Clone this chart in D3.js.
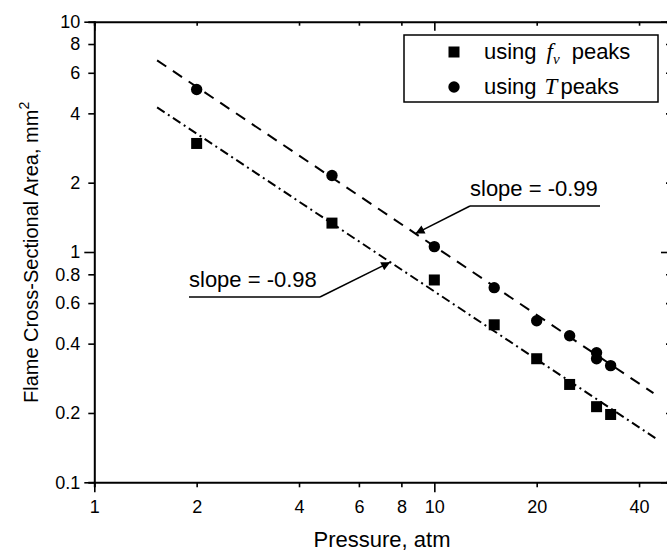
<!DOCTYPE html>
<html>
<head>
<meta charset="utf-8">
<script src="https://cdn.jsdelivr.net/npm/d3@7"></script>
<style>
  html, body { margin: 0; padding: 0; background: #fff; }
  svg { display: block; font-family: "Liberation Sans", Arial, sans-serif; }
</style>
</head>
<body>
<svg id="chart" width="667" height="551"></svg>
<script>
// Flame cross-sectional area vs pressure (log-log), two peak definitions
const pressureFv = [2, 5, 10, 15, 20, 25, 30, 33];
const areaFv     = [2.96, 1.335, 0.756, 0.483, 0.344, 0.266, 0.213, 0.197];
const pressureT  = [2, 5, 10, 15, 20, 25, 30, 30, 33];
const areaT      = [5.08, 2.15, 1.055, 0.70, 0.503, 0.433, 0.365, 0.344, 0.321];

// Power-law fits: area = coef * p^slope
const fitT  = { coef: 10.35, slope: -0.99, from: 1.53, to: 44.1, label: "slope = -0.99", at: 8.8 };
const fitFv = { coef: 6.44,  slope: -0.98, from: 1.53, to: 45.0, label: "slope = -0.98", at: 7.42 };

const xTickValues = [1, 2, 4, 6, 8, 10, 20, 40];
const xMajor = [1, 10];
const yTickValues = [0.1, 0.2, 0.4, 0.6, 0.8, 1, 2, 4, 6, 8, 10];
const yMajor = [0.1, 1, 10];

const svg = d3.select("#chart");
const x = d3.scaleLog().domain([1, 50]).range([94.3, 672]);
const y = d3.scaleLog().domain([0.1, 10]).range([482.3, 21.7]);

const fmt = d => String(d);
const isMajor = (arr, d) => arr.some(m => Math.abs(m - d) < 1e-9);

// Bottom axis (ticks outward)
const gx = svg.append("g").attr("transform", `translate(0,${y(0.1)})`)
  .call(d3.axisBottom(x).tickValues(xTickValues).tickFormat(fmt).tickSizeOuter(0).tickSize(5).tickPadding(13));
gx.selectAll(".tick line").attr("y2", d => isMajor(xMajor, d) ? 10 : 5);
// Left axis (ticks outward)
const gy = svg.append("g").attr("transform", `translate(${x(1)},0)`)
  .call(d3.axisLeft(y).tickValues(yTickValues).tickFormat(fmt).tickSizeOuter(0).tickSize(6).tickPadding(8));
gy.selectAll(".tick line").attr("x2", d => isMajor(yMajor, d) ? -10 : -6);
// Top axis (ticks inward)
const gt = svg.append("g").attr("transform", `translate(0,${y(10)})`)
  .call(d3.axisBottom(x).tickValues(xTickValues).tickFormat("").tickSizeOuter(0).tickSize(4));
gt.selectAll(".tick line").attr("y2", d => isMajor(xMajor, d) ? 9 : 4);
// Right axis (ticks inward)
const gr = svg.append("g").attr("transform", `translate(${x(50)},0)`)
  .call(d3.axisRight(y).tickValues(yTickValues).tickFormat("").tickSizeOuter(0).tickSize(-6));
gr.selectAll(".tick line").attr("x2", d => isMajor(yMajor, d) ? -11 : -6);

svg.selectAll(".domain").attr("stroke", "#000").attr("stroke-width", 2);
svg.selectAll(".tick line").attr("stroke", "#000").attr("stroke-width", 1.6);
svg.selectAll(".tick text").attr("fill", "#000")
  .style("font-family", "'Liberation Sans', Arial, sans-serif").style("font-size", "18px");

// Axis titles
svg.append("text").attr("x", 382).attr("y", 547).attr("text-anchor", "middle")
  .style("font-size", "22px").text("Pressure, atm");
const yt = svg.append("text").attr("transform", "translate(38,403) rotate(-90)")
  .attr("text-anchor", "start").style("font-size", "20px");
yt.append("tspan").text("Flame Cross-Sectional Area, mm");
yt.append("tspan").attr("dy", -9).style("font-size", "14px").text("2");

// Fit lines
const fitLine = d3.line().x(d => x(d[0])).y(d => y(d[1]));
function fitPts(f) { return [f.from, f.to].map(p => [p, f.coef * Math.pow(p, f.slope)]); }
svg.append("path").attr("d", fitLine(fitPts(fitT))).attr("fill", "none")
  .attr("stroke", "#000").attr("stroke-width", 2).attr("stroke-dasharray", "11,8");
svg.append("path").attr("d", fitLine(fitPts(fitFv))).attr("fill", "none")
  .attr("stroke", "#000").attr("stroke-width", 2).attr("stroke-dasharray", "9,4,2,4");

// Data markers
const sq = 11;
svg.append("g").selectAll("rect").data(pressureFv.map((p, i) => [p, areaFv[i]])).join("rect")
  .attr("x", d => x(d[0]) - sq / 2).attr("y", d => y(d[1]) - sq / 2)
  .attr("width", sq).attr("height", sq).attr("fill", "#000");
svg.append("g").selectAll("circle").data(pressureT.map((p, i) => [p, areaT[i]])).join("circle")
  .attr("cx", d => x(d[0])).attr("cy", d => y(d[1])).attr("r", 5.7).attr("fill", "#000");

// Slope annotations with arrows
svg.append("defs").append("marker").attr("id", "arrow")
  .attr("viewBox", "0 0 10 10").attr("refX", 10).attr("refY", 5)
  .attr("markerWidth", 15).attr("markerHeight", 9).attr("markerUnits", "userSpaceOnUse")
  .attr("orient", "auto")
  .append("path").attr("d", "M0,0 L10,5 L0,10 z").attr("fill", "#000");

function annotate(f, lx, ly, len, elbowX) {
  const tip = [x(f.at), y(f.coef * Math.pow(f.at, f.slope))];
  svg.append("text").attr("x", lx).attr("y", ly - 10).style("font-size", "22px").text(f.label);
  svg.append("line").attr("x1", lx).attr("x2", lx + len).attr("y1", ly).attr("y2", ly)
    .attr("stroke", "#000").attr("stroke-width", 1.5);
  svg.append("line").attr("x1", elbowX).attr("y1", ly).attr("x2", tip[0]).attr("y2", tip[1])
    .attr("stroke", "#000").attr("stroke-width", 1.5).attr("marker-end", "url(#arrow)");
}
annotate(fitT, 470, 206, 130, 470);
annotate(fitFv, 189, 297, 131, 320);

// Legend
const lg = svg.append("g");
lg.append("rect").attr("x", 404).attr("y", 35).attr("width", 254).attr("height", 67)
  .attr("fill", "#fff").attr("stroke", "#000").attr("stroke-width", 1.5);
lg.append("rect").attr("x", 454 - sq / 2).attr("y", 52 - sq / 2).attr("width", sq).attr("height", sq).attr("fill", "#000");
lg.append("circle").attr("cx", 454).attr("cy", 87).attr("r", 5.7).attr("fill", "#000");
const serif = "'Liberation Serif', 'Times New Roman', serif";
const t1 = lg.append("text").attr("x", 484).attr("y", 59).style("font-size", "22px");
t1.append("tspan").text("using");
t1.append("tspan").attr("dx", 10).style("font-family", serif).style("font-style", "italic").style("font-size", "23px").text("f");
t1.append("tspan").attr("dy", 5).style("font-family", serif).style("font-style", "italic").style("font-size", "15px").text("ν");
t1.append("tspan").attr("dx", 12).attr("dy", -5).text("peaks");
const t2 = lg.append("text").attr("x", 484).attr("y", 94).style("font-size", "22px");
t2.append("tspan").text("using");
t2.append("tspan").attr("dx", 8).style("font-family", serif).style("font-style", "italic").style("font-size", "23px").text("T");
t2.append("tspan").attr("dx", 3).text("peaks");
</script>
</body>
</html>
